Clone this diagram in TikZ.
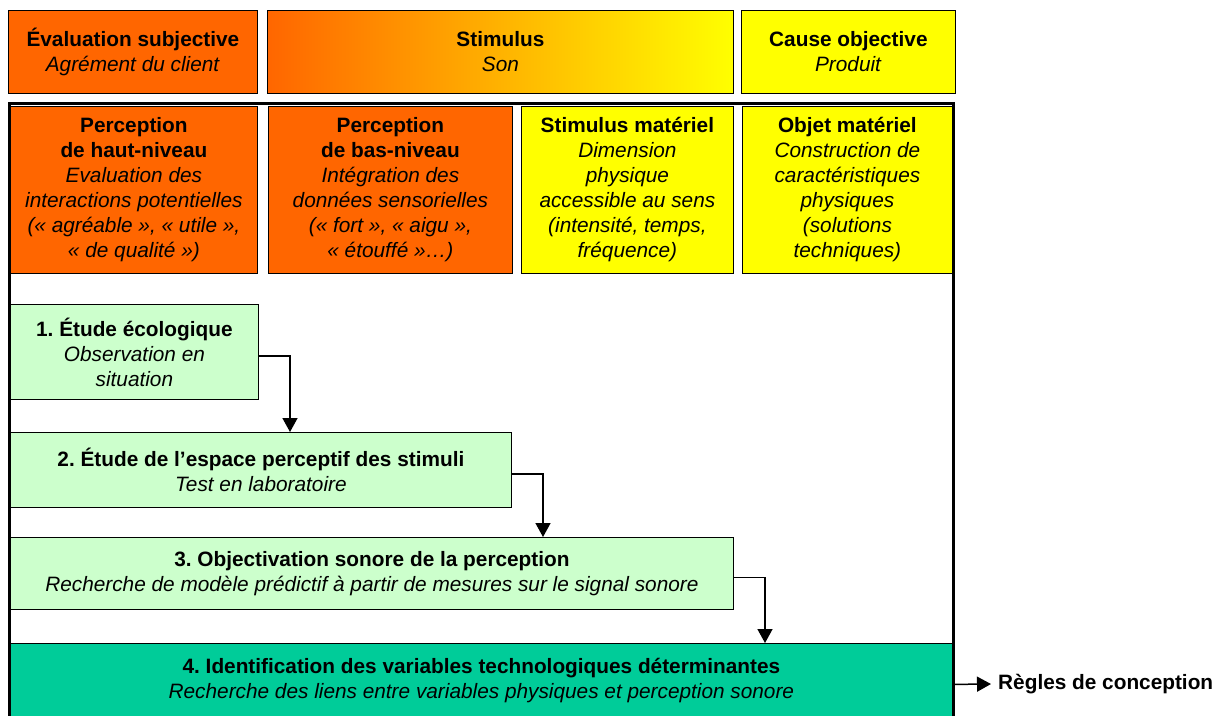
\documentclass[tikz,border=0pt]{standalone}
\usepackage{fontspec}
\setmainfont{Liberation Sans}
\frenchspacing
\usetikzlibrary{positioning,arrows.meta}
\definecolor{boxorange}{HTML}{FF6600}
\definecolor{boxyellow}{HTML}{FFFF00}
\definecolor{boxgreen}{HTML}{CCFFCC}
\definecolor{boxteal}{HTML}{00CC99}
\newcommand{\boxfont}{\fontsize{20.8}{25}\selectfont}

\begin{document}
\begin{tikzpicture}[x=1pt,y=-1pt,
  box/.style={draw=black,line width=0.8pt,anchor=north west,align=center,inner sep=0pt,font=\boxfont},
  arr/.style={line width=1.5pt,-{Triangle[width=15pt,length=14pt]}}]
\useasboundingbox (0,0) rectangle (1226,715);
\clip (0,0) rectangle (1226,715);
% top row
\node[box,fill=boxorange,minimum width=249,minimum height=83] (subj) at (8,10) {\textbf{Évaluation subjective}\\\textit{Agrément du client}};
\node[box,left color=boxorange,right color=boxyellow,minimum width=466,minimum height=83] (stim) at (267,10) {\textbf{Stimulus}\\\textit{Son}};
\node[box,fill=boxyellow,minimum width=214,minimum height=83] (cause) at (741,10) {\textbf{Cause objective}\\\textit{Produit}};
% second row
\node[box,fill=boxorange,minimum width=247,minimum height=167] (hautniv) at (10,106) {\textbf{Perception}\\\textbf{de haut-niveau}\\\textit{Evaluation des}\\\textit{interactions potentielles}\\\textit{(« agréable », « utile »,}\\\textit{« de qualité »)}};
\node[box,fill=boxorange,minimum width=244,minimum height=167] (basniv) at (268,106) {\textbf{Perception}\\\textbf{de bas-niveau}\\\textit{Intégration des}\\\textit{données sensorielles}\\\textit{(« fort », « aigu »,}\\\textit{« étouffé »…)}};
\node[box,fill=boxyellow,minimum width=212,minimum height=167] (stimmat) at (521,106) {\textbf{Stimulus matériel}\\\textit{Dimension}\\\textit{physique}\\\textit{accessible au sens}\\\textit{(intensité, temps,}\\\textit{fréquence)}};
\node[box,fill=boxyellow,minimum width=210,minimum height=167] (objmat) at (742,106) {\textbf{Objet matériel}\\\textit{Construction de}\\\textit{caractéristiques}\\\textit{physiques}\\\textit{(solutions}\\\textit{techniques)}};
% steps
\node[box,fill=boxgreen,minimum width=248,minimum height=95] (etude1) at (10,304) {\textbf{1. Étude écologique}\\\textit{Observation en}\\\textit{situation}};
\node[box,fill=boxgreen,minimum width=501,minimum height=75] (etude2) at (10,432) {\textbf{2. Étude de l’espace perceptif des stimuli}\\\textit{Test en laboratoire}};
\node[box,fill=boxgreen,minimum width=723,minimum height=72] (etude3) at (10,537) {\textbf{3. Objectivation sonore de la perception}\\\textit{Recherche de modèle prédictif à partir de mesures sur le signal sonore}};
\node[box,fill=boxteal,minimum width=942,minimum height=74] (etude4) at (10,643) {\textbf{4. Identification des variables technologiques déterminantes}\\\textit{Recherche des liens entre variables physiques et perception sonore}};
\node[anchor=west,font=\boxfont\bfseries,inner xsep=7pt] (regles) at (991,684) {Règles de conception};
% frame
\draw[line width=3pt] (9.5,720) -- (9.5,103.5) -- (953.5,103.5) -- (953.5,720);
% arrows
\draw[arr] ([yshift=-4pt]etude1.east) -| ([xshift=280pt]etude2.north west);
\draw[arr] ([yshift=-4pt]etude2.east) -| ([xshift=533pt]etude3.north west);
\draw[arr] ([yshift=-4pt]etude3.east) -| ([xshift=755pt]etude4.north west);
\draw[arr] ([yshift=-4pt]etude4.east) -- (regles.west);
\end{tikzpicture}
\end{document}
